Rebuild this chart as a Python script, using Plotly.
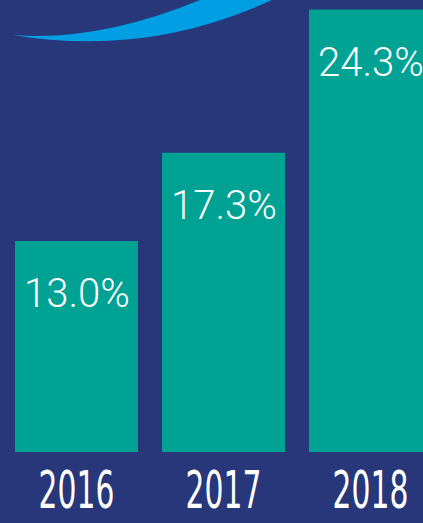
import plotly.graph_objects as go

years = ["2016", "2017", "2018"]
shares = [13.0, 17.3, 24.3]
labels = ["13.0%", "17.3%", "24.3%"]

BG = "#27377a"
TEAL = "#00a294"
ARC = "#009fe3"

W, H = 423, 523
ML, MR, MT, MB = 3, 0, 0, 71
PW, PH = W - ML - MR, H - MT - MB

fig = go.Figure()
fig.add_trace(go.Bar(
    x=years, y=shares, marker=dict(color=TEAL, line=dict(width=0)),
    width=123 / 147, hoverinfo="skip"
))

for i, (v, t) in enumerate(zip(shares, labels)):
    fig.add_annotation(x=i, y=v, text=t, showarrow=False, yanchor="middle",
                       yshift=-53, font=dict(family="Roboto", size=40, color="white", weight=300))

def px(xp, yp):
    return (xp - ML) / PW, 1 - (yp - MT) / PH

def pt(xp, yp):
    a, b = px(xp, yp)
    return f"{a:.5f},{b:.5f}"

path = ("M " + pt(12, 35) + " Q " + pt(150, 58) + " " + pt(276, -2) +
        " L " + pt(205, -2) + " Q " + pt(100, 42) + " " + pt(12, 35) + " Z")
fig.add_shape(type="path", path=path, xref="paper", yref="paper",
              fillcolor=ARC, line=dict(width=0), layer="above")

v0 = 2.687
ppu = 20.47
fig.update_layout(
    width=W, height=H, margin=dict(l=ML, r=MR, t=MT, b=MB, pad=0),
    paper_bgcolor=BG, plot_bgcolor=BG, showlegend=False,
    xaxis=dict(type="category", range=[-0.5, -0.5 + PW / 147], showgrid=False, zeroline=False,
               showline=False, ticks="", ticklabelstandoff=4, automargin=False,
               tickfont=dict(family="DejaVu Sans Condensed", size=51, color="white")),
    yaxis=dict(range=[v0, v0 + PH / ppu], visible=False, automargin=False),
)
post = """
document.body.style.margin='0';document.body.style.overflow='hidden';
document.querySelectorAll('.xtick text').forEach(function(t){
  var tr = t.getAttribute('transform') || '';
  t.setAttribute('transform', tr + ' scale(0.65,1)');
});
"""
fig.write_html("out.html", config={"displayModeBar": False}, post_script=post)
